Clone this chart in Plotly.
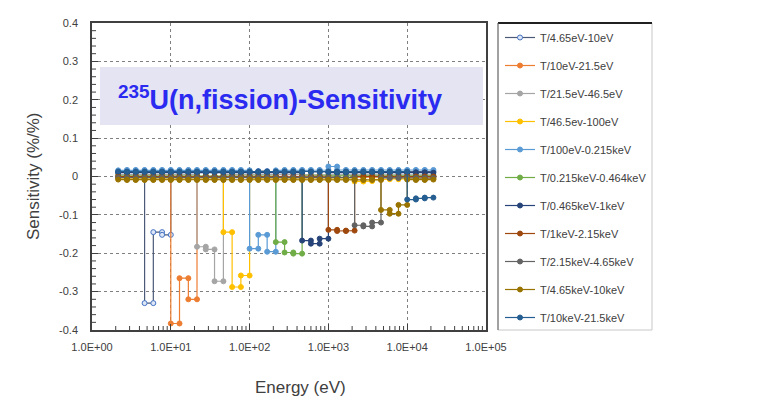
import plotly.graph_objects as go

# fine-bin energy boundaries (eV)
edges = [2.15, 2.78, 3.59, 4.65, 6.0, 7.75, 10.0, 12.9, 16.7, 21.5, 27.8, 35.9,
         46.5, 60.0, 77.5, 100.0, 129.0, 167.0, 215.0, 278.0, 359.0, 464.0, 600.0,
         775.0, 1000.0, 1290.0, 1670.0, 2150.0, 2780.0, 3590.0, 4650.0, 6000.0,
         7750.0, 10000.0, 12900.0, 16700.0, 21500.0]

names = ["T/4.65eV-10eV", "T/10eV-21.5eV", "T/21.5eV-46.5eV", "T/46.5ev-100eV",
         "T/100eV-0.215keV", "T/0.215keV-0.464keV", "T/0.465keV-1keV",
         "T/1keV-2.15keV", "T/2.15keV-4.65keV", "T/4.65keV-10keV", "T/10keV-21.5keV"]

s1 = [0.012, 0.013, 0.012, -0.330, -0.145, -0.152, 0.013, 0.012, 0.014, 0.012, 0.013, 0.012,
      0.014, 0.013, 0.012, 0.013, 0.014, 0.012, 0.013, 0.012, 0.013, 0.014, 0.012, 0.013,
      0.012, 0.013, 0.012, 0.013, 0.012, 0.013, 0.012, 0.013, 0.012, 0.013, 0.012, 0.013]
s2 = [-0.002, -0.001, -0.002, -0.001, -0.002, -0.001, -0.383, -0.265, -0.320, -0.002, -0.001, -0.002,
      -0.001, -0.002, -0.001, -0.002, -0.001, -0.002, -0.001, -0.002, -0.001, -0.002, -0.001, -0.002,
      -0.001, -0.002, -0.001, -0.002, -0.001, -0.002, -0.001, -0.002, -0.001, -0.002, -0.001, -0.002]
s3 = [0.005, 0.004, 0.005, 0.004, 0.005, 0.004, 0.005, 0.004, 0.005, -0.183, -0.190, -0.273,
      0.005, 0.004, 0.005, 0.004, 0.005, 0.004, 0.005, 0.004, 0.005, 0.004, 0.005, 0.004,
      0.005, 0.004, 0.005, 0.004, 0.005, 0.004, 0.005, 0.004, 0.005, 0.004, 0.005, 0.004]
s4 = [-0.006, -0.007, -0.006, -0.007, -0.006, -0.007, -0.006, -0.007, -0.006, -0.007, -0.006, -0.007,
      -0.145, -0.288, -0.258, -0.006, -0.007, -0.006, -0.007, -0.006, -0.007, -0.006, -0.007, -0.006,
      -0.007, -0.006, -0.007, -0.013, -0.012, -0.008, -0.007, -0.006, -0.007, -0.006, -0.007, -0.006]
s5 = [0.016, 0.017, 0.016, 0.017, 0.016, 0.017, 0.016, 0.017, 0.016, 0.017, 0.016, 0.017,
      0.016, 0.017, 0.016, -0.188, -0.152, -0.196, 0.016, 0.017, 0.016, 0.017, 0.016, 0.017,
      0.026, 0.017, 0.016, 0.017, 0.016, 0.017, 0.016, 0.017, 0.016, 0.017, 0.016, 0.017]
s6 = [0.002, 0.001, 0.002, 0.001, 0.002, 0.001, 0.002, 0.001, 0.002, 0.001, 0.002, 0.001,
      0.002, 0.001, 0.002, 0.001, 0.002, 0.001, -0.171, -0.198, -0.201, 0.002, 0.001, 0.002,
      0.001, 0.002, 0.001, 0.002, 0.001, 0.002, 0.001, 0.002, 0.001, 0.002, 0.001, 0.002]
s7 = [0.010, 0.011, 0.010, 0.011, 0.010, 0.011, 0.010, 0.011, 0.010, 0.011, 0.010, 0.011,
      0.010, 0.011, 0.010, 0.011, 0.010, 0.011, 0.010, 0.011, 0.010, -0.167, -0.175, -0.162,
      0.011, 0.010, 0.011, 0.010, 0.011, 0.010, 0.011, 0.010, 0.011, 0.010, 0.011, 0.010]
s8 = [0.000, -0.001, 0.000, -0.001, 0.000, -0.001, 0.000, -0.001, 0.000, -0.001, 0.000, -0.001,
      0.000, -0.001, 0.000, -0.001, 0.000, -0.001, 0.000, -0.001, 0.000, -0.001, 0.000, -0.001,
      -0.139, -0.142, -0.141, 0.000, -0.001, 0.000, -0.001, 0.000, -0.001, 0.000, -0.001, 0.000]
s9 = [-0.003, -0.004, -0.003, -0.004, -0.003, -0.004, -0.003, -0.004, -0.003, -0.004, -0.003, -0.004,
      -0.003, -0.004, -0.003, -0.004, -0.003, -0.004, -0.003, -0.004, -0.003, -0.004, -0.003, -0.004,
      -0.003, -0.004, -0.003, -0.127, -0.130, -0.120, -0.003, -0.004, -0.003, -0.004, -0.003, -0.004]
s10 = [-0.008, -0.009, -0.008, -0.009, -0.008, -0.009, -0.008, -0.009, -0.008, -0.009, -0.008, -0.009,
       -0.008, -0.009, -0.008, -0.009, -0.008, -0.009, -0.008, -0.009, -0.008, -0.009, -0.008, -0.009,
       -0.008, -0.009, -0.008, -0.009, -0.008, -0.009, -0.087, -0.097, -0.074, -0.008, -0.009, -0.008]
s11 = [0.013, 0.012, 0.013, 0.012, 0.013, 0.012, 0.013, 0.012, 0.013, 0.012, 0.013, 0.012,
       0.013, 0.012, 0.013, 0.012, 0.013, 0.012, 0.013, 0.012, 0.013, 0.012, 0.013, 0.012,
       0.013, 0.012, 0.013, 0.012, 0.013, 0.012, 0.013, 0.012, 0.013, -0.060, -0.057, -0.055]

series = [s1, s2, s3, s4, s5, s6, s7, s8, s9, s10, s11]
line_colors = ["#4a5a78", "#ED7D31", "#A5A5A5", "#FFC000", "#5B9BD5", "#70AD47",
               "#264478", "#9E480E", "#636363", "#997300", "#255E91"]
marker_colors = ["#dce6f4", "#ED7D31", "#A5A5A5", "#FFC000", "#5B9BD5", "#70AD47",
                 "#264478", "#9E480E", "#636363", "#997300", "#255E91"]
marker_edges = ["#4472C4", "#ED7D31", "#A5A5A5", "#FFC000", "#5B9BD5", "#70AD47",
                "#264478", "#9E480E", "#636363", "#997300", "#255E91"]

xtick_vals = [1, 10, 100, 1000, 10000, 100000]
xtick_text = ["1.0E+00", "1.0E+01", "1.0E+02", "1.0E+03", "1.0E+04", "1.0E+05"]
x_minor = [m * d for d in [1, 10, 100, 1000, 10000] for m in [2, 3, 4, 5, 6, 7, 8, 9]]
ytick_vals = [-0.4, -0.3, -0.2, -0.1, 0, 0.1, 0.2, 0.3, 0.4]
ytick_text = ["-0.4", "-0.3", "-0.2", "-0.1", "0", "0.1", "0.2", "0.3", "0.4"]
y_minor = [round(-0.4 + 0.02 * i, 2) for i in range(41) if i % 5 != 0]

fig = go.Figure()
for i, vals in enumerate(series):
    xs, ys = [], []
    for k, v in enumerate(vals):
        xs += [edges[k], edges[k + 1]]
        ys += [v, v]
    fig.add_trace(go.Scatter(
        x=xs, y=ys, mode="lines+markers", name=names[i], legendgroup=names[i],
        line=dict(color=line_colors[i], width=1.2),
        marker=dict(size=5, color=marker_colors[i], line=dict(color=marker_edges[i], width=1)),
    ))

L, R, T, B = 92, 273, 23, 70
pw, ph = 759 - L - R, 400 - T - B

def px(x):
    return (x - L) / pw

def py(y):
    return (400 - B - y) / ph

shapes = [
    dict(type="rect", xref="paper", yref="paper", x0=px(100), x1=px(483),
         y0=py(125), y1=py(67), fillcolor="#e4e4f2", line=dict(width=0), layer="above"),
    dict(type="rect", xref="paper", yref="paper", x0=px(498), x1=px(652),
         y0=py(330), y1=py(23), fillcolor="rgba(0,0,0,0)",
         line=dict(color="#c8c8c8", width=1)),
    dict(type="line", xref="paper", yref="paper", x0=px(498), x1=px(652),
         y0=py(23), y1=py(23), line=dict(color="#202020", width=2)),
    dict(type="line", xref="paper", yref="paper", x0=px(498), x1=px(498),
         y0=py(330), y1=py(23), line=dict(color="#606060", width=1)),
]
# minor ticks drawn as short shapes on the axes
for v in x_minor:
    shapes.append(dict(type="line", xref="x", yref="y domain", x0=v, x1=v,
                       y0=0, y1=4 / ph, line=dict(color="#404040", width=1)))
for v in y_minor:
    shapes.append(dict(type="line", xref="x domain", yref="y", x0=0, x1=4 / pw,
                       y0=v, y1=v, line=dict(color="#404040", width=1)))

fig.update_layout(
    width=759, height=400,
    margin=dict(l=L, r=R, t=T, b=B),
    paper_bgcolor="white", plot_bgcolor="white",
    font=dict(family="Liberation Sans, Arial, sans-serif", color="#404040", size=11),
    showlegend=True,
    legend=dict(x=px(500), y=py(23), xanchor="left", yanchor="top",
                font=dict(size=11, color="#404040"), borderwidth=0,
                bgcolor="rgba(0,0,0,0)", tracegroupgap=9, itemwidth=30, maxheight=400),
    shapes=shapes,
    annotations=[
        dict(text="<b><sup>235</sup>U(n,fission)-Sensitivity</b>", xref="paper", yref="paper",
             x=px(280), y=py(98), showarrow=False, xanchor="center", yanchor="middle",
             font=dict(size=27, color="#2a2af0", family="Liberation Sans, Arial, sans-serif")),
        dict(text="Sensitivity (%/%)", xref="paper", yref="paper", x=px(33), y=py(176),
             showarrow=False, textangle=-90, xanchor="center", yanchor="middle",
             font=dict(size=17, color="#404040")),
        dict(text="Energy (eV)", xref="paper", yref="paper", x=px(300), y=py(387),
             showarrow=False, xanchor="center", yanchor="middle",
             font=dict(size=17, color="#404040")),
    ],
)

fig.update_xaxes(
    type="log", range=[0, 5], tickvals=xtick_vals, ticktext=xtick_text,
    showgrid=True, gridcolor="#808080", griddash="dot", gridwidth=1,
    ticks="inside", ticklen=6, tickcolor="#404040",
    showline=True, linecolor="#404040", linewidth=1.5, mirror=True,
    zeroline=False, tickfont=dict(size=11, color="#404040"), ticklabelstandoff=6,
)
fig.update_yaxes(
    range=[-0.4, 0.4], tickvals=ytick_vals, ticktext=ytick_text,
    showgrid=True, gridcolor="#808080", griddash="dot", gridwidth=1,
    ticks="inside", ticklen=6, tickcolor="#404040",
    showline=True, linecolor="#404040", linewidth=1.5, mirror=True,
    zeroline=False, tickfont=dict(size=11, color="#404040"), ticklabelstandoff=10,
)

fig.write_html("out.html")
